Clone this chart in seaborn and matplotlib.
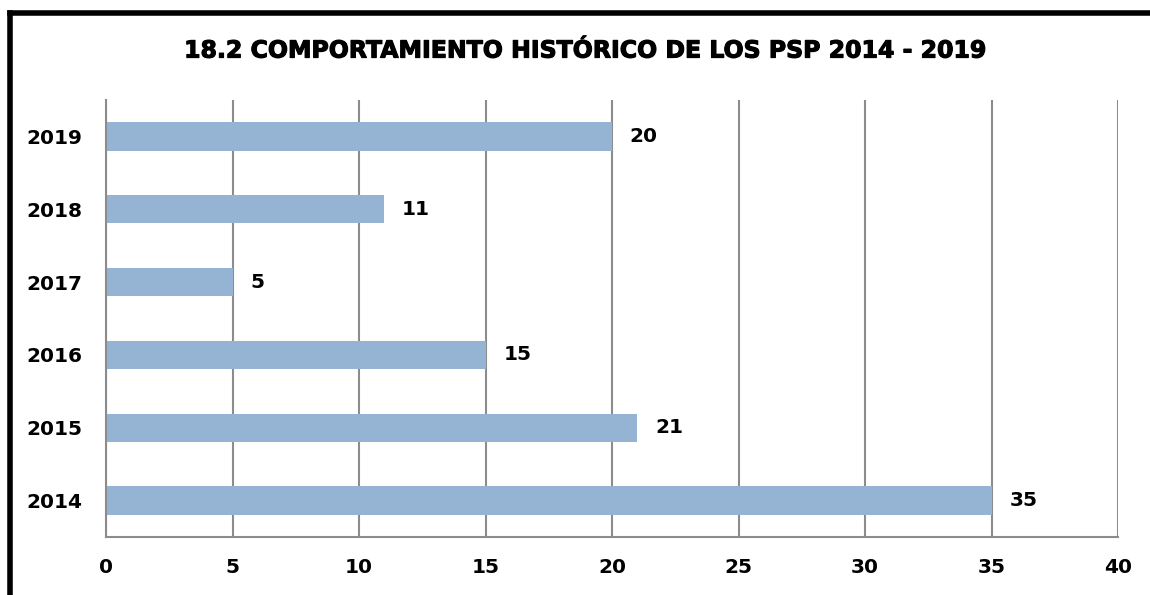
"""
Comportamiento histórico de los PSP 2014 - 2019
"""

import matplotlib.pyplot as plt
import matplotlib.patheffects as pe
import seaborn as sns
import pandas as pd
from matplotlib.lines import Line2D

anios = ['2019', '2018', '2017', '2016', '2015', '2014']
valores = [20, 11, 5, 15, 21, 35]
ticks_x = [0, 5, 10, 15, 20, 25, 30, 35, 40]

sns.set_style('white')
plt.rcParams['font.family'] = ['DejaVu Sans']
plt.rcParams['text.color'] = 'black'
plt.rcParams['xtick.color'] = 'black'
plt.rcParams['ytick.color'] = 'black'

df = pd.DataFrame({'anio': anios, 'valor': valores})

fig = plt.figure(figsize=(11.5, 5.95), dpi=100)
ax = fig.add_axes([0.0922, 0.0975, 0.88, 0.7345])

sns.barplot(data=df, x='valor', y='anio', order=anios, orient='h',
            color='#95B3D2', saturation=1, width=0.39, linewidth=0, ax=ax)

ax.set_xlim(0, 40)
ax.set_ylim(5.5, -0.5)
ax.set_xticks(ticks_x)
ax.xaxis.grid(True, color='#8c8c8c', linewidth=1.5)
ax.set_axisbelow(True)
for lado in ['top', 'right']:
    ax.spines[lado].set_visible(False)
for lado in ['left', 'bottom']:
    ax.spines[lado].set_color('#8c8c8c')
    ax.spines[lado].set_linewidth(1.5)
ax.tick_params(axis='both', length=0, labelsize=14.5)
ax.tick_params(axis='x', pad=15)
ax.tick_params(axis='y', pad=17)
for lbl in ax.get_xticklabels() + ax.get_yticklabels():
    lbl.set_fontweight('bold')
ax.set_xlabel('')
ax.set_ylabel('')

# Etiquetas de valor
for i, v in enumerate(valores):
    ax.text(v + 0.7, i, str(v), va='center', ha='left',
            fontsize=14.5, fontweight='bold')

fig.text(0.509, 0.915, '18.2 COMPORTAMIENTO HISTÓRICO DE LOS PSP 2014 - 2019',
         ha='center', va='center', fontsize=17, fontweight='heavy',
         path_effects=[pe.withStroke(linewidth=0.8, foreground='black')])

# Marco
fig.add_artist(Line2D([0.0085, 0.0085], [0, 0.978], color='black',
                      linewidth=4, transform=fig.transFigure, solid_capstyle='projecting'))
fig.add_artist(Line2D([0.0085, 1.0], [0.978, 0.978], color='black',
                      linewidth=4, transform=fig.transFigure, solid_capstyle='projecting'))

fig.savefig('out.png', dpi=100)
